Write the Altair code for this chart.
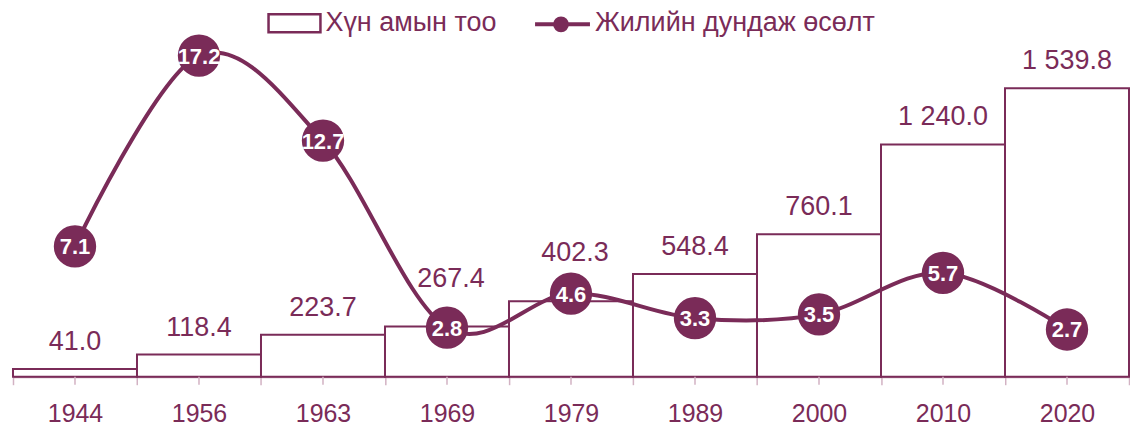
import altair as alt
import pandas as pd

years = ["1944", "1956", "1963", "1969", "1979", "1989", "2000", "2010", "2020"]
population = [41.0, 118.4, 223.7, 267.4, 402.3, 548.4, 760.1, 1240.0, 1539.8]
growth = [7.1, 17.2, 12.7, 2.8, 4.6, 3.3, 3.5, 5.7, 2.7]
legend_labels = ["Хүн амын тоо", "Жилийн дундаж өсөлт"]

MAROON = "#7a2b58"
AXIS_C = "#c39ab1"
TICK_C = "#d2b2c3"
FONT = "Liberation Sans"

df = pd.DataFrame({"year": years, "pop": population, "growth": growth})
df["pop_label"] = [f"{v:,.1f}".replace(",", " ") for v in population]
df["growth_label"] = [f"{v:.1f}" for v in growth]

W, H = 1118, 409
BASE = 369

xscale = alt.Scale(domain=years, paddingInner=0, paddingOuter=0)
xaxis = alt.Axis(title=None, labelAngle=0, labelFontSize=25, labelColor=MAROON, labelFont=FONT,
                 domainColor=AXIS_C, domainWidth=2, tickColor=TICK_C, tickSize=8, tickWidth=1.5,
                 tickBand="extent", labelPadding=17, offset=-(H - BASE), grid=False)
X = alt.X("year:N", scale=xscale, sort=years, axis=xaxis)

pop_scale = alt.Scale(domain=[0, 1966], range=[BASE, 0], nice=False, zero=False)
gr_scale = alt.Scale(domain=[0.2, 19.7], range=[BASE, 0], nice=False, zero=False)
Ypop = alt.Y("pop:Q", scale=pop_scale, axis=None)
Ygr = alt.Y("growth:Q", scale=gr_scale, axis=None)

base = alt.Chart(df)

# labels lifted above the growth circles that sit on their bars
lifted = ["1969", "1979"]

bars = base.mark_bar(fill="white", stroke=MAROON, strokeWidth=2).encode(x=X, y=Ypop)
bar_text = base.transform_filter(
    ~alt.FieldOneOfPredicate(field="year", oneOf=lifted)
).mark_text(dy=-19, baseline="alphabetic", fontSize=27, color=MAROON, font=FONT).encode(
    x=X, y=Ypop, text="pop_label:N")
bar_text_lift = base.transform_filter(
    alt.FieldOneOfPredicate(field="year", oneOf=lifted)
).mark_text(dy=-40, dx=4, baseline="alphabetic", fontSize=27, color=MAROON, font=FONT).encode(
    x=X, y=Ypop, text="pop_label:N")

center_ticks = base.mark_rule(color=TICK_C, strokeWidth=1.5).encode(
    x=X, y=alt.value(BASE), y2=alt.value(BASE + 8))

line = base.mark_line(interpolate="cardinal", strokeWidth=4, color=MAROON).encode(x=X, y=Ygr)
dots = base.mark_circle(size=1800, color=MAROON, opacity=1).encode(x=X, y=Ygr)
dot_text = base.mark_text(color="white", fontWeight="bold", fontSize=22, baseline="middle",
                          font=FONT, dy=1).encode(x=X, y=Ygr, text="growth_label:N")

# manual legend
leg1 = pd.DataFrame({"label": [legend_labels[0]]})
leg2 = pd.DataFrame({"label": [legend_labels[1]]})
leg_rect = alt.Chart(leg1).mark_rect(fill="white", stroke=MAROON, strokeWidth=2.5).encode(
    x=alt.value(256), x2=alt.value(308), y=alt.value(6), y2=alt.value(24))
leg_text1 = alt.Chart(leg1).mark_text(align="left", baseline="middle", fontSize=27, color=MAROON, font=FONT).encode(
    x=alt.value(313), y=alt.value(15), text="label:N")
leg_rule = alt.Chart(leg2).mark_rule(color=MAROON, strokeWidth=4).encode(
    x=alt.value(523), x2=alt.value(578), y=alt.value(16))
leg_dot = alt.Chart(leg2).mark_circle(color=MAROON, opacity=1, size=250).encode(
    x=alt.value(549), y=alt.value(16))
leg_text2 = alt.Chart(leg2).mark_text(align="left", baseline="middle", fontSize=27, color=MAROON, font=FONT).encode(
    x=alt.value(583), y=alt.value(15), text="label:N")

chart = alt.layer(
    bars, bar_text, bar_text_lift, center_ticks, line, dots, dot_text,
    leg_rect, leg_text1, leg_rule, leg_dot, leg_text2
).resolve_scale(y="independent").properties(
    width=W, height=H, padding={"left": 4, "top": 0, "right": 0, "bottom": 0}, background="white"
).configure_view(stroke=None)

chart.save("out.html", embed_options={"renderer": "svg", "actions": False})
